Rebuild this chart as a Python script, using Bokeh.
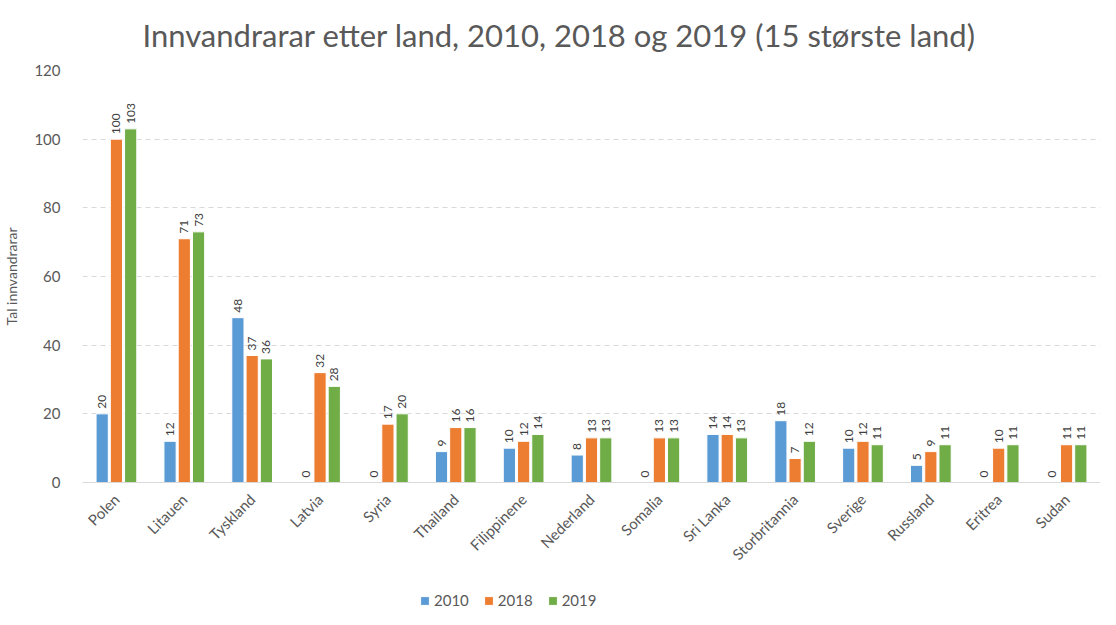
import math
from bokeh.plotting import figure
from bokeh.layouts import column
from bokeh.models import ColumnDataSource, FactorRange, FixedTicker, Legend, LegendItem
from bokeh.transform import dodge
from bokeh.core.properties import value
from bokeh.embed import file_html
from bokeh.resources import INLINE

countries = ["Polen", "Litauen", "Tyskland", "Latvia", "Syria", "Thailand", "Filippinene",
             "Nederland", "Somalia", "Sri Lanka", "Storbritannia", "Sverige", "Russland",
             "Eritrea", "Sudan"]
v2010 = [20, 12, 48, 0, 0, 9, 10, 8, 0, 14, 18, 10, 5, 0, 0]
v2018 = [100, 71, 37, 32, 17, 16, 12, 13, 13, 14, 7, 12, 9, 10, 11]
v2019 = [103, 73, 36, 28, 20, 16, 14, 13, 13, 13, 12, 11, 11, 11, 11]
years = ["2010", "2018", "2019"]
y_ticks = [0, 20, 40, 60, 80, 100, 120]

colors = ["#5B9BD5", "#ED7D31", "#70AD47"]
FONT = "Lato"
GRAY = "#595959"

src = ColumnDataSource(dict(
    country=countries,
    y2010=v2010, y2018=v2018, y2019=v2019,
    l2010=[str(v) for v in v2010],
    l2018=[str(v) for v in v2018],
    l2019=[str(v) for v in v2019],
))

p = figure(x_range=FactorRange(*countries), y_range=(0, 120),
           width=1100, height=587, output_backend="svg", toolbar_location=None,
           min_border_left=80, min_border_right=0, min_border_top=0, min_border_bottom=105)

p.title.text = "Innvandrarar etter land, 2010, 2018 og 2019 (15 største land)"
p.title.align = "left"
p.title.offset = 60
p.title.vertical_align = "top"
p.title.text_font = FONT
p.title.text_font_size = "31px"
p.title.text_font_style = "normal"
p.title.text_color = GRAY
p.title.standoff = 30

p.outline_line_color = None
p.xgrid.grid_line_color = None
p.ygrid.grid_line_color = "#d9d9d9"
p.ygrid.grid_line_dash = "5 4"
p.yaxis.ticker = FixedTicker(ticks=y_ticks)

p.yaxis.axis_line_color = None
p.yaxis.major_tick_line_color = None
p.yaxis.minor_tick_line_color = None
p.yaxis.major_label_text_font = FONT
p.yaxis.major_label_text_font_size = "15px"
p.yaxis.major_label_text_color = GRAY
p.yaxis.major_label_standoff = 16
p.yaxis.axis_label = "Tal innvandrarar"
p.yaxis.axis_label_text_font = FONT
p.yaxis.axis_label_text_font_size = "14px"
p.yaxis.axis_label_text_font_style = "normal"
p.yaxis.axis_label_text_color = GRAY
p.yaxis.axis_label_standoff = 11

p.xaxis.axis_line_color = "#d9d9d9"
p.xaxis.major_tick_line_color = None
p.xaxis.minor_tick_line_color = None
p.xaxis.major_label_orientation = math.pi / 4
p.xaxis.major_label_text_font = FONT
p.xaxis.major_label_text_font_size = "15px"
p.xaxis.major_label_text_color = GRAY
p.xaxis.major_label_standoff = 8

offsets = [-0.21, 0.0, 0.21]
for yr, off, col in zip(years, offsets, colors):
    p.vbar(x=dodge("country", off, range=p.x_range), top="y" + yr, width=0.18,
           source=src, fill_color=col, line_color="white", line_width=1)
    p.text(x=dodge("country", off, range=p.x_range), y="y" + yr, text="l" + yr,
           source=src, angle=math.pi / 2, text_align="left", text_baseline="middle",
           x_offset=0, y_offset=-5, text_font=value(FONT), text_font_size="12px",
           text_color="#404040")

# legend row (separate strip below the chart); its bars sit outside its visible range
lf = figure(width=1100, height=22, output_backend="svg", toolbar_location=None,
            x_range=FactorRange(*countries), y_range=(500, 501),
            x_axis_location=None, y_axis_location=None, min_border=0)
lf.outline_line_color = None
lf.grid.visible = False
items = []
for yr, col in zip(years, colors):
    r = lf.vbar(x="country", top="y" + yr, width=0.5, source=src,
                fill_color=col, line_color="white")
    items.append(LegendItem(label=yr, renderers=[r]))
legend = Legend(items=items, orientation="horizontal", location=(337, 0),
                label_text_font=FONT, label_text_font_size="15px", label_text_color=GRAY,
                label_height=14, glyph_width=11, glyph_height=11, spacing=14,
                padding=0, margin=0, border_line_color=None,
                background_fill_alpha=0, label_standoff=4)
lf.add_layout(legend, "center")

open("out.html", "w").write(file_html(column(p, lf, spacing=0), INLINE))
